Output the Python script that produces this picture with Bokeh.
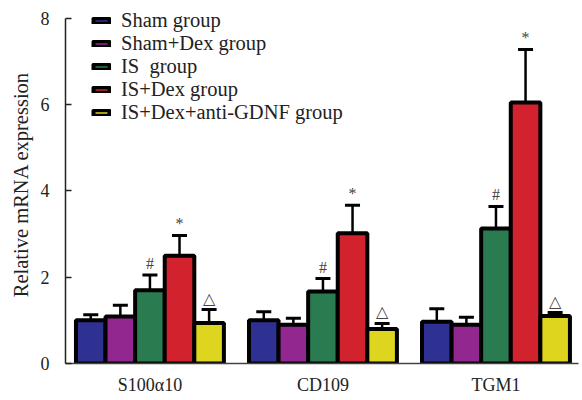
from bokeh.plotting import figure
from bokeh.models import Range1d, FixedTicker, Whisker, TeeHead, ColumnDataSource, Legend, LegendItem
from bokeh.core.properties import value
from bokeh.embed import file_html
from bokeh.resources import INLINE

genes = ["S100\u03b110", "CD109", "TGM1"]
groups = ["Sham group", "Sham+Dex group", "IS  group", "IS+Dex group", "IS+Dex+anti-GDNF group"]
colors = ["#2e3192", "#92278f", "#2a7c50", "#d2222d", "#ddd51e"]

sham = [1.00, 1.00, 0.97]
sham_dex = [1.09, 0.90, 0.90]
is_grp = [1.70, 1.67, 3.13]
is_dex = [2.50, 3.02, 6.05]
is_dex_anti = [0.94, 0.80, 1.10]

sham_err = [0.13, 0.20, 0.30]
sham_dex_err = [0.26, 0.15, 0.17]
is_grp_err = [0.35, 0.30, 0.51]
is_dex_err = [0.47, 0.65, 1.23]
is_dex_anti_err = [0.31, 0.13, 0.08]

marks = ["", "", "#", "*", "\u25b3"]

means = [sham, sham_dex, is_grp, is_dex, is_dex_anti]
errs = [sham_err, sham_dex_err, is_grp_err, is_dex_err, is_dex_anti_err]

FONT = "Liberation Serif"
bw = 0.171

p = figure(width=582, height=400, output_backend="svg", toolbar_location=None,
           x_range=Range1d(-0.488, 2.477), y_range=Range1d(0, 8.3),
           min_border_top=5, min_border_right=4, min_border_left=65, min_border_bottom=37)
p.outline_line_color = None
p.xgrid.visible = False
p.ygrid.visible = False
p.background_fill_color = "white"

items = []
for k in range(5):
    xs = [g + (k - 2) * bw for g in range(3)]
    tops = [m + e for m, e in zip(means[k], errs[k])]
    src = ColumnDataSource(dict(x=xs, top=means[k], upper=tops, mark=[marks[k]] * 3))
    r = p.vbar(x="x", top="top", width=bw, source=src, fill_color=colors[k],
               line_color="black", line_width=4)
    w = Whisker(base="x", lower="top", upper="upper", source=src, dimension="height",
                line_color="black", line_width=2.5, lower_head=None,
                upper_head=TeeHead(size=15, line_color="black", line_width=3))
    p.add_layout(w)
    if marks[k]:
        p.text(x="x", y="upper", text="mark", source=src, text_align="center",
               text_baseline="bottom", y_offset=-3, text_font=value(FONT),
               text_font_size="16px", text_color="#444444")
    items.append(LegendItem(label=groups[k], renderers=[r]))

legend = Legend(items=items, location=(26, 239), orientation="vertical",
                label_text_font=FONT, label_text_font_size="20.5px", label_text_color="#222222",
                glyph_width=20, glyph_height=7, label_height=20, spacing=0,
                label_standoff=10, padding=0, margin=0,
                background_fill_alpha=0, border_line_color=None)
p.add_layout(legend)

p.xaxis.ticker = FixedTicker(ticks=[0, 1, 2])
p.xaxis.major_label_overrides = {0: genes[0], 1: genes[1], 2: genes[2]}
p.xaxis.major_tick_line_color = None
p.xaxis.minor_tick_line_color = None
p.xaxis.major_label_standoff = 5
p.xaxis.axis_line_color = "#444444"
p.xaxis.axis_line_width = 1.5

p.yaxis.ticker = FixedTicker(ticks=[0, 2, 4, 6, 8])
p.yaxis.bounds = (0, 8)
p.yaxis.major_tick_in = 6
p.yaxis.major_tick_out = 0
p.yaxis.major_tick_line_width = 1.5
p.yaxis.minor_tick_line_color = None
p.yaxis.axis_line_width = 1.5
p.yaxis.axis_line_color = "#222222"
p.yaxis.major_tick_line_color = "#222222"
p.yaxis.major_label_standoff = 16
p.yaxis.axis_label = "Relative mRNA expression"
p.yaxis.axis_label_standoff = 6

for ax in (p.xaxis, p.yaxis):
    ax.major_label_text_font = FONT
    ax.major_label_text_font_size = "18px"
    ax.major_label_text_color = "#222222"
p.yaxis.axis_label_text_font = FONT
p.yaxis.axis_label_text_font_size = "20.5px"
p.yaxis.axis_label_text_font_style = "normal"
p.yaxis.axis_label_text_color = "#222222"

open("out.html", "w").write(file_html(p, INLINE))
